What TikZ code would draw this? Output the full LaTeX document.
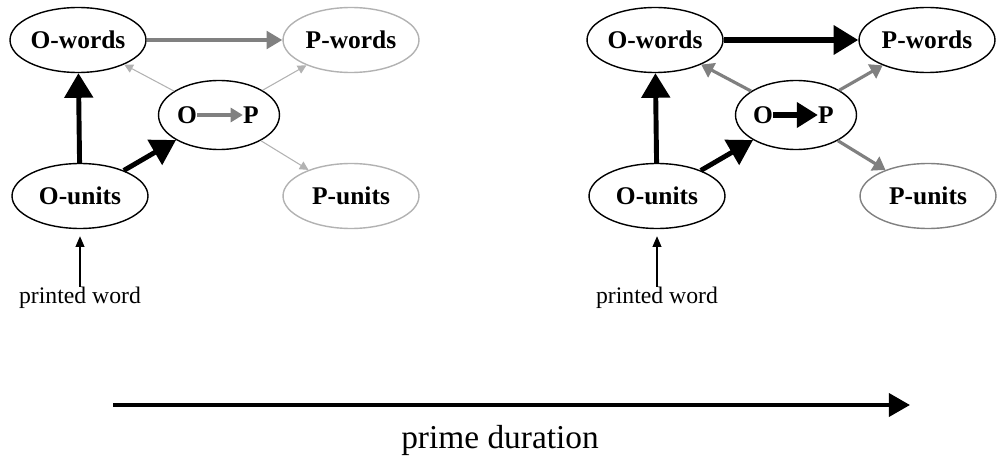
\documentclass[tikz,border=0pt]{standalone}
\usepackage{fontspec}
\setmainfont{Liberation Serif}
\usepackage{tikz}
\usetikzlibrary{shapes}
\usetikzlibrary{arrows.meta}
\usetikzlibrary{positioning}
\definecolor{midgray}{gray}{0.5}
\definecolor{faintgray}{gray}{0.7}
\tikzstyle{unit}=[ellipse,draw,thick,inner sep=0pt,minimum width=2.72cm,minimum height=1.3cm,font=\fontsize{14.5}{16}\selectfont\bfseries]
\tikzstyle{hub}=[ellipse,draw,thick,inner sep=0pt,minimum width=2.42cm,minimum height=1.38cm]
\tikzstyle{letter}=[inner sep=0pt,font=\fontsize{14.5}{16}\selectfont\bfseries]
\tikzstyle{caption}=[inner sep=0pt,font=\fontsize{13.5}{16}\selectfont]
\tikzstyle{strong}=[-{Triangle[length=14pt,width=16pt]},line width=2.8pt]
\tikzstyle{medium}=[-{Triangle[length=7pt,width=9pt]},line width=1.8pt,midgray]
\tikzstyle{weak}=[-{Triangle[length=5pt,width=5pt]},line width=0.6pt,faintgray]
\tikzstyle{input}=[-{Triangle[length=6pt,width=5pt]},line width=0.6pt,shorten >=4pt]

\begin{document}
\begin{tikzpicture}[x=0.02cm,y=-0.02cm]
\useasboundingbox (0,0) rectangle (997,466);
%left panel
\node[unit] (ow1) at (78,40) {O-words};
\node[unit,draw=faintgray] (pw1) at (351,40) {P-words};
\node[hub] (op1) at (219,115) {};
\node[letter] (o1) at (187,115) {O};
\node[letter] (p1) at (251,115) {P};
\node[unit] (ou1) at (80,196) {O-units};
\node[unit,draw=faintgray] (pu1) at (351,196) {P-units};
\node[caption] (pr1) at (80,298) {printed word};
%right panel
\node[unit] (ow2) at (655,40) {O-words};
\node[unit] (pw2) at (927,40) {P-words};
\node[hub] (op2) at (796,115) {};
\node[letter] (o2) at (763,115) {O};
\node[letter] (p2) at (826,115) {P};
\node[unit] (ou2) at (657,196) {O-units};
\node[unit,draw=midgray] (pu2) at (928,196) {P-units};
\node[caption] (pr2) at (657,298) {printed word};
%time axis
\coordinate (t0) at (113,405);
\coordinate (t1) at (910,405);
\node[caption,font=\fontsize{19}{22}\selectfont] (dur) at (500,440) {prime duration};
%Drawing Edges
\draw[medium,line width=2.2pt,-{Triangle[length=9pt,width=10pt]}] (ow1.east) -- (pw1.west);
\draw[strong] (ou1) -- (ow1);
\draw[strong] (ou1) -- (op1);
\draw[weak] (op1) -- (ow1);
\draw[weak] (op1) -- (pw1);
\draw[weak] (op1) -- (pu1);
\draw[medium,line width=2.2pt,-{Triangle[length=7pt,width=8pt]}] (o1) -- (p1);
\draw[input] (pr1) -- (ou1);
\draw[strong,line width=3.4pt] (ow2.east) -- (pw2.west);
\draw[strong] (ou2) -- (ow2);
\draw[strong] (ou2) -- (op2);
\draw[medium] (op2) -- (ow2);
\draw[medium] (op2) -- (pw2);
\draw[medium] (op2) -- (pu2);
\draw[strong,line width=3.6pt,-{Triangle[length=12pt,width=14pt]}] (o2) -- (p2);
\draw[input] (pr2) -- (ou2);
\draw[-{Triangle[length=12pt,width=13pt]},line width=2.4pt] (t0) -- (t1);
\end{tikzpicture}
\end{document}
